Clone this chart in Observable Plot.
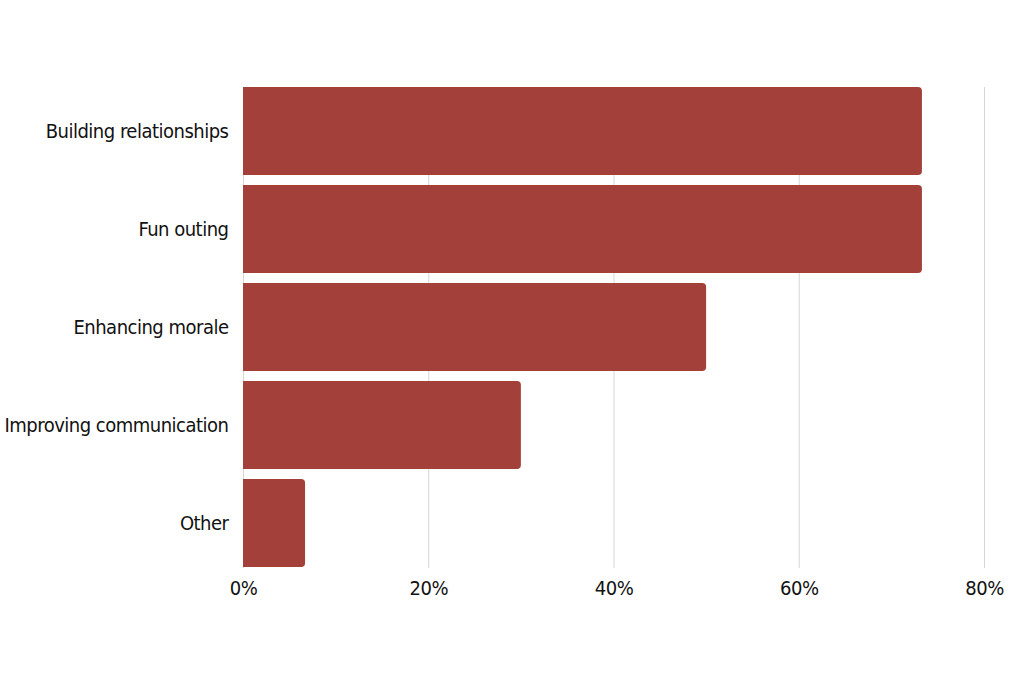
<!DOCTYPE html>
<html>
<head>
<meta charset="utf-8">
<script src="https://cdn.jsdelivr.net/npm/d3@7"></script>
<script src="https://cdn.jsdelivr.net/npm/@observablehq/plot@0.6"></script>
<style>
  html, body { margin: 0; padding: 0; background: #fff; }
  #chart svg { display: block; }
  #chart svg text { font-stretch: condensed; letter-spacing: -0.5px; }
</style>
</head>
<body>
<div id="chart"></div>
<script>
const categories = ["Building relationships", "Fun outing", "Enhancing morale", "Improving communication", "Other"];
const values = [0.733, 0.733, 0.50, 0.30, 0.067];
const xTicks = [0, 0.2, 0.4, 0.6, 0.8];

const data = categories.map((c, i) => ({category: c, value: values[i]}));

const chart = Plot.plot({
  width: 1024,
  height: 683,
  marginLeft: 243,
  marginRight: 40,
  marginTop: 87,
  marginBottom: 115,
  style: {fontFamily: "'DejaVu Sans Condensed', 'DejaVu Sans', sans-serif", fontSize: "20px", color: "#111", background: "#fff"},
  x: {domain: [0, 0.8], ticks: xTicks, tickFormat: d => Math.round(d * 100) + "%", label: null},
  y: {domain: categories, label: null, paddingInner: 0.1, paddingOuter: 0},
  marks: [
    Plot.gridX(xTicks, {stroke: "#ccc", strokeOpacity: 0.8}),
    Plot.barX(data, {x: "value", y: "category", fill: "#a3403a", rx2: 4}),
    Plot.axisX({ticks: xTicks, tickFormat: d => Math.round(d * 100) + "%", tickSize: 0, tickPadding: 12, fontSize: 20, label: null}),
    Plot.axisY({tickSize: 0, tickPadding: 15, fontSize: 20, label: null})
  ]
});
document.getElementById("chart").appendChild(chart);
</script>
</body>
</html>
